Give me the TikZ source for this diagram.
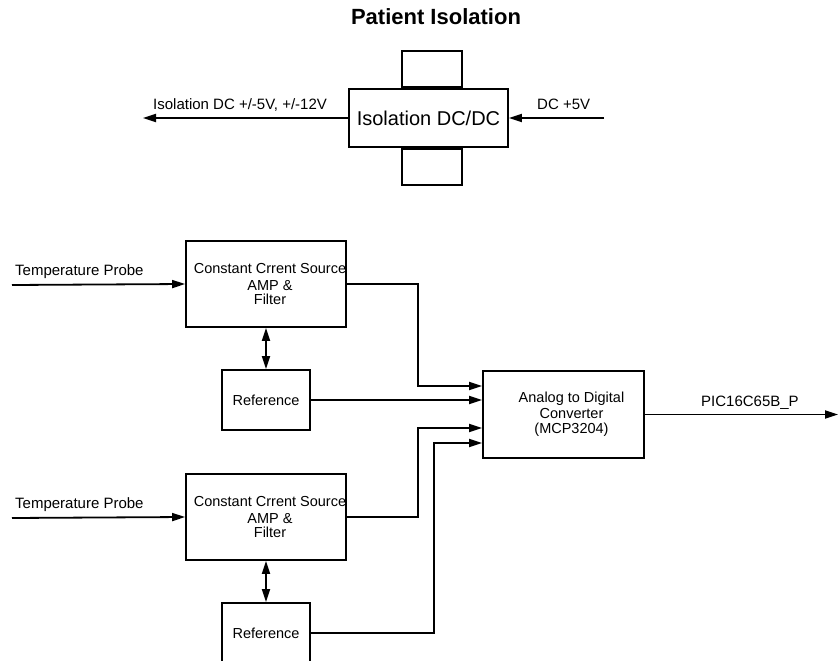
\documentclass[tikz,border=0pt]{standalone}
\usepackage{fontspec}
\setmainfont{Liberation Sans}
\usetikzlibrary{arrows.meta,positioning}

\tikzset{
  blk/.style={draw, line width=1.8pt, inner sep=0pt},
  wire/.style={line width=1.8pt, -{Triangle[length=13pt,width=8pt]}},
  bus/.style={line width=1.8pt, {Triangle[length=13pt,width=8pt]}-{Triangle[length=13pt,width=8pt]}},
  lbl/.style={font=\fontsize{15}{17}\selectfont, inner sep=0pt},
  boxtxt/.style={font=\fontsize{14.5}{15.5}\selectfont, align=center, inner sep=0pt},
}

\begin{document}
\begin{tikzpicture}[x=1pt,y=-1pt]
\useasboundingbox (0,0) rectangle (838,661);

% Title
\node[font=\fontsize{22}{24}\selectfont\bfseries, anchor=base] (title) at (436,25) {Patient Isolation};

% Isolation DC/DC converter with its two tabs
\node[blk, minimum width=159, minimum height=58, font=\fontsize{20}{22}\selectfont] (iso) at (428.5,118) {Isolation DC/DC};
\node[blk, minimum width=60, minimum height=36, anchor=south] (isoTop) at ([xshift=3.5pt]iso.north) {};
\node[blk, minimum width=60, minimum height=36, anchor=north] (isoBot) at ([xshift=3.5pt]iso.south) {};

\coordinate (isoOut) at (143,118);
\coordinate (isoIn) at (604,118);
\draw[wire] (iso.west) -- (isoOut);
\draw[wire] (isoIn) -- (iso.east);
\node[lbl, anchor=base west] (isoOutLbl) at (153,110) {Isolation DC +/-5V, +/-12V};
\node[lbl, anchor=base west] (isoInLbl) at (537,110) {DC +5V};

% Two probe channels: current source + reference
\foreach \ch/\dy in {A/0,B/233} {
  \node[blk, minimum width=160, minimum height=86] (ccs\ch) at (266,284+\dy) {};
  \node[boxtxt] (ccs\ch txt) at ([xshift=4pt]ccs\ch.center)
    {Constant Crrent Source\\[1.8pt]AMP \&\\[-2.2pt]Filter};
  \node[blk, minimum width=88, minimum height=60, font=\fontsize{14.5}{15.5}\selectfont] (ref\ch) at (266,400+\dy) {Reference};

  \coordinate (probe\ch) at (12,285+\dy);
  \draw[wire] (probe\ch) -- (ccs\ch.west);
  \node[lbl, anchor=base west] (probe\ch lbl) at (15,275+\dy) {Temperature Probe};

  \draw[bus] (ccs\ch.south) -- (ref\ch.north);
}

% ADC
\node[blk, minimum width=161, minimum height=87] (adc) at (563.5,414.5) {};
\node[boxtxt] (adctxt) at ([xshift=8pt]adc.center) {Analog to Digital\\Converter\\(MCP3204)};

% Inputs to the ADC
\coordinate (jA) at (418,386);
\coordinate (jB) at (418,428);
\coordinate (jR) at (434,443);
\draw[wire] (ccsA.east) -| (jA) -- (jA -| adc.west);
\draw[wire] (refA.east) -- (refA.east -| adc.west);
\draw[wire] (ccsB.east) -| (jB) -- (jB -| adc.west);
\draw[wire] (refB.east) -| (jR) -- (jR -| adc.west);

% Output to the PIC
\coordinate (pic) at (838,414.5);
\draw[wire] (adc.east) -- (pic);
\node[lbl, anchor=base west] (picLbl) at (701,406) {PIC16C65B\_P};
\end{tikzpicture}
\end{document}
